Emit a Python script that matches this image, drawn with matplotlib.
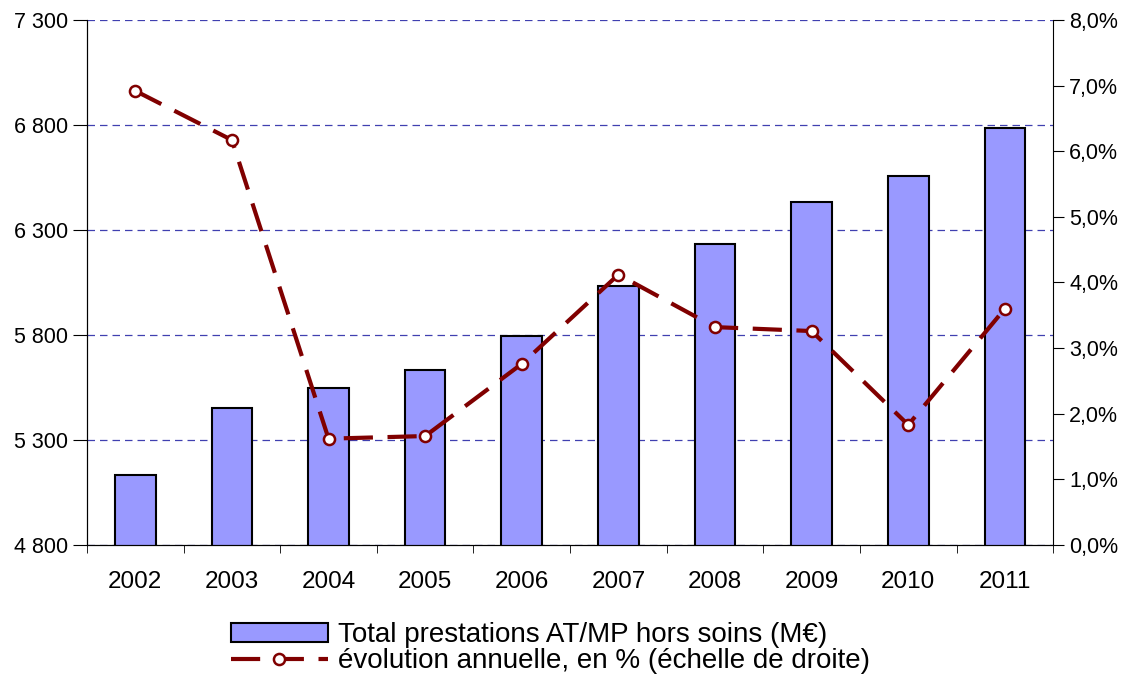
import numpy as np
import matplotlib
matplotlib.use('Agg')
import matplotlib.pyplot as plt
from matplotlib.ticker import FuncFormatter, FixedLocator

plt.rcParams['font.family'] = ['Liberation Sans', 'DejaVu Sans']

years = ['2002', '2003', '2004', '2005', '2006', '2007', '2008', '2009', '2010', '2011']
prestations = [5133, 5452, 5548, 5633, 5795, 6033, 6233, 6433, 6557, 6786]
evolution = [6.92, 6.17, 1.62, 1.66, 2.76, 4.12, 3.32, 3.26, 1.83, 3.60]

bar_label = 'Total prestations AT/MP hors soins (M€)'
line_label = 'évolution annuelle, en % (échelle de droite)'

fig = plt.figure(figsize=(11.3, 6.82), dpi=100)
ax = fig.add_axes([0.077, 0.2009, 0.855, 0.7698])
x = np.arange(len(years))

ax.set_axisbelow(True)
ax.yaxis.grid(True, color='#4040b0', linestyle=(0, (6, 4)), linewidth=0.9)
bars = ax.bar(x, prestations, width=0.42, color='#9999ff', edgecolor='black',
              linewidth=1.5, label=bar_label, zorder=2)
ax.set_xlim(-0.5, len(years) - 0.5)
ax.set_ylim(4800, 7300)
ax.set_yticks(np.arange(4800, 7301, 500))
ax.yaxis.set_major_formatter(FuncFormatter(lambda v, p: f'{int(v):,}'.replace(',', ' ')))
ax.set_xticks(x)
ax.set_xticklabels(years)
ax.xaxis.set_minor_locator(FixedLocator(np.arange(-0.5, len(years), 1.0)))
ax.tick_params(axis='x', which='major', length=0, labelsize=17.5, pad=19)
ax.tick_params(axis='x', which='minor', length=6, direction='out')
ax.tick_params(axis='y', length=10, labelsize=15.5, direction='out')
ax.spines['top'].set_visible(False)
ax.spines['right'].set_visible(False)

ax2 = ax.twinx()
line, = ax2.plot(x, evolution, color='#800000', linewidth=3, linestyle=(0, (7, 3.5)),
                 marker='o', markersize=8, markerfacecolor='white',
                 markeredgecolor='#800000', markeredgewidth=1.8, label=line_label, zorder=3)
ax2.set_ylim(0, 8)
ax2.set_yticks(np.arange(0, 8.1, 1))
ax2.yaxis.set_major_formatter(FuncFormatter(lambda v, p: f'{v:.1f}%'.replace('.', ',')))
ax2.tick_params(axis='y', length=8, labelsize=15.5, direction='out')
ax2.spines['top'].set_visible(False)

fig.legend([bars, line], [bar_label, line_label], loc='upper center',
           bbox_to_anchor=(0.487, 0.108), frameon=False, fontsize=20,
           handlelength=3.5, handleheight=0.65, labelspacing=0.0,
           handletextpad=0.35, borderpad=0)

fig.savefig('out.png', dpi=100)
